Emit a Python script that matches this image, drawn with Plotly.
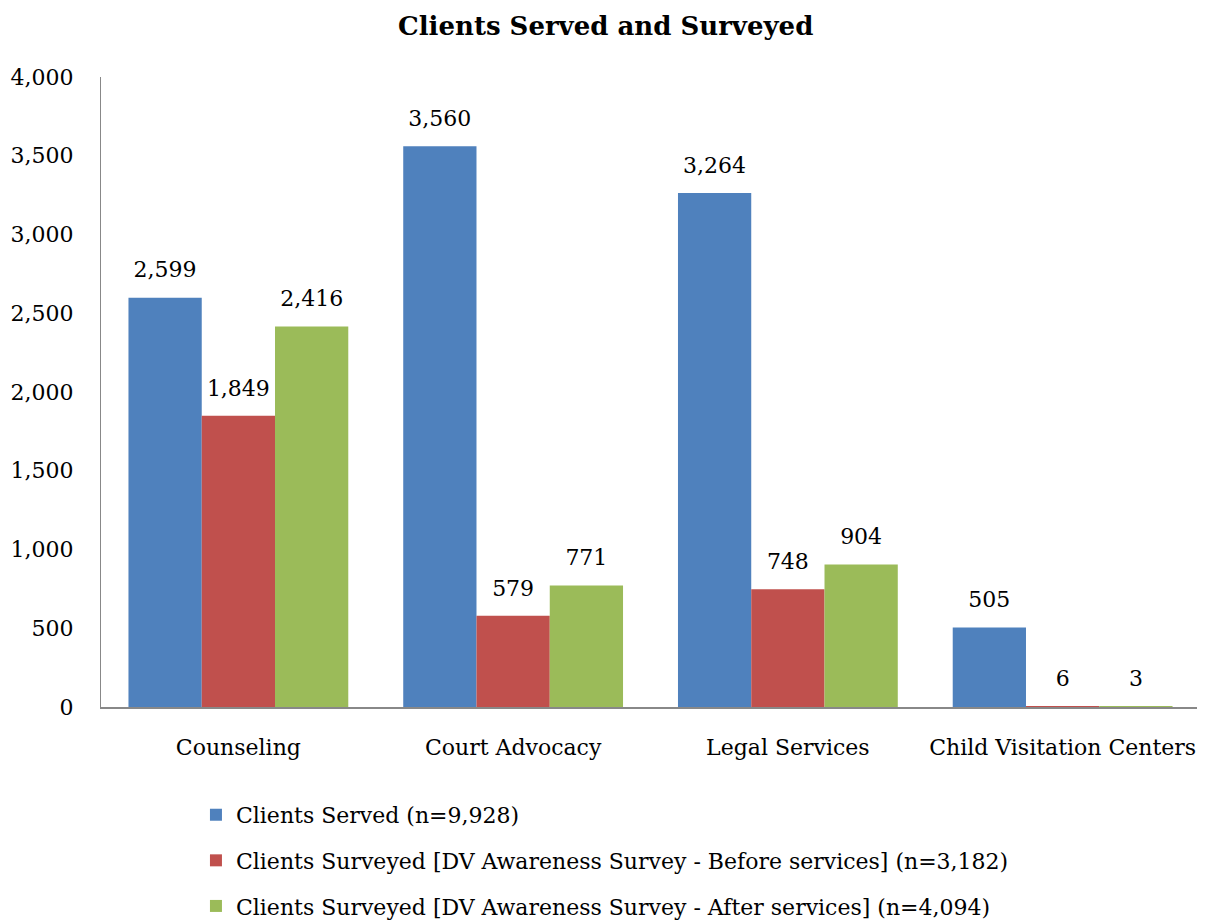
import plotly.graph_objects as go

categories = ["Counseling", "Court Advocacy", "Legal Services", "Child Visitation Centers"]
served = [2599, 3560, 3264, 505]
before = [1849, 579, 748, 6]
after = [2416, 771, 904, 3]

series_names = [
    "Clients Served (n=9,928)",
    "Clients Surveyed [DV Awareness Survey - Before services] (n=3,182)",
    "Clients Surveyed [DV Awareness Survey - After services] (n=4,094)",
]
colors = ["#4F81BD", "#C0504D", "#9BBB59"]

FONT = "DejaVu Serif"

fig = go.Figure()
for i, (name, vals) in enumerate(zip(series_names, [served, before, after])):
    fig.add_trace(go.Bar(
        x=categories, y=vals, name=name, offsetgroup=str(i),
        marker=dict(color=colors[i], line=dict(width=0)),
        legendgroup=str(i),
    ))
    # value labels, lifted off the bar tops by an invisible marker
    fig.add_trace(go.Scatter(
        x=categories, y=vals, mode="markers+text", offsetgroup=str(i),
        text=[f"{v:,}" for v in vals], textposition="top center",
        textfont=dict(family=FONT, size=22, color="black"),
        marker=dict(size=22, color="rgba(0,0,0,0)"),
        showlegend=False, hoverinfo="skip", cliponaxis=False,
    ))

# page body has an 8px margin, so margins are shifted by that
fig.update_layout(
    width=1205, height=920,
    margin=dict(l=93, r=13, t=69, b=221, autoexpand=False),
    paper_bgcolor="white", plot_bgcolor="white",
    font=dict(family=FONT, size=22, color="black"),
    title=dict(text="<b>Clients Served and Surveyed</b>", x=0.496, xanchor="center",
               y=0.9805, yanchor="middle", font=dict(family=FONT, size=26)),
    barmode="group", bargap=0.2, bargroupgap=0,
    scattermode="group", scattergap=0.2,
    showlegend=True,
    legend=dict(orientation="v", x=0.0864, xanchor="left", y=-0.138, yanchor="top",
                tracegroupgap=14, font=dict(family=FONT, size=22)),
)
fig.update_yaxes(range=[0, 4000], dtick=500, tickformat=",", showgrid=False,
                 showline=True, linecolor="#888888", linewidth=1, ticks="",
                 ticklabelstandoff=22, zeroline=False)
fig.update_xaxes(showline=True, linecolor="#888888", linewidth=2, ticks="",
                 ticklabelstandoff=20)

fig.write_html("out.html")
